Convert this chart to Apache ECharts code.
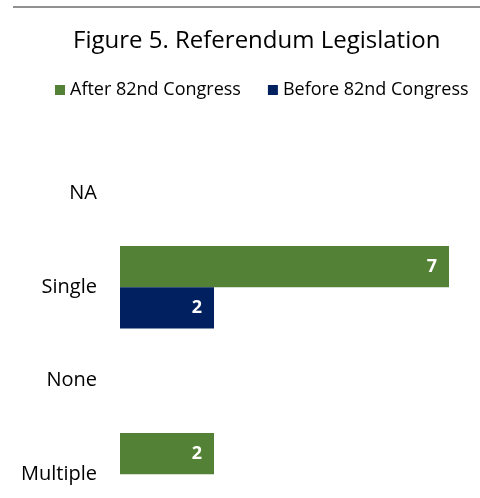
<!DOCTYPE html>
<html><head><meta charset="utf-8">
<script src="https://cdn.jsdelivr.net/npm/echarts@6/dist/echarts.min.js"></script>
<style>html,body{margin:0;padding:0;background:#fff}#c{width:480px;height:498px}</style>
</head><body><div id="c"></div>
<script>
const categories = ['NA', 'Single', 'None', 'Multiple'];
const afterValues = [null, 7, null, 2];
const beforeValues = [null, 2, null, null];
const seriesNames = ['After 82nd Congress', 'Before 82nd Congress'];
const titleText = 'Figure 5. Referendum Legislation';

const FONT = '"Open Sans", "Noto Sans", sans-serif';
const chart = echarts.init(document.getElementById('c'), null, {renderer: 'canvas'});
const labelStyle = {show: true, position: 'insideRight', distance: 12, color: '#fff', fontWeight: 'bold', fontSize: 18, fontFamily: FONT};
chart.setOption({
  animation: false,
  title: {text: titleText, left: 68, top: 24, textStyle: {fontFamily: FONT, fontWeight: 'normal', fontSize: 24, color: '#000'}},
  legend: {top: 76, left: 50, itemWidth: 10, itemHeight: 10, itemGap: 27, icon: 'rect', textStyle: {fontFamily: FONT, fontSize: 18, color: '#000'}, data: seriesNames},
  graphic: [{type: 'line', shape: {x1: 13, y1: 7, x2: 480, y2: 7}, style: {stroke: '#222', lineWidth: 1}}],
  grid: {left: 120, top: 147, width: 329, height: 374, containLabel: false, outerBoundsMode: 'none'},
  xAxis: {type: 'value', min: 0, max: 7, show: false, splitLine: {show: false}},
  yAxis: {type: 'category', inverse: true, data: categories, axisLine: {show: false}, axisTick: {show: false},
    axisLabel: {margin: 23, fontFamily: FONT, fontSize: 20, color: '#000'}},
  series: [
    {name: seriesNames[0], type: 'bar', data: afterValues, itemStyle: {color: '#538135'}, barGap: '0%', barCategoryGap: '12%', label: labelStyle},
    {name: seriesNames[1], type: 'bar', data: beforeValues, itemStyle: {color: '#002060'}, barGap: '0%', barCategoryGap: '12%', label: labelStyle}
  ]
});
</script></body></html>
